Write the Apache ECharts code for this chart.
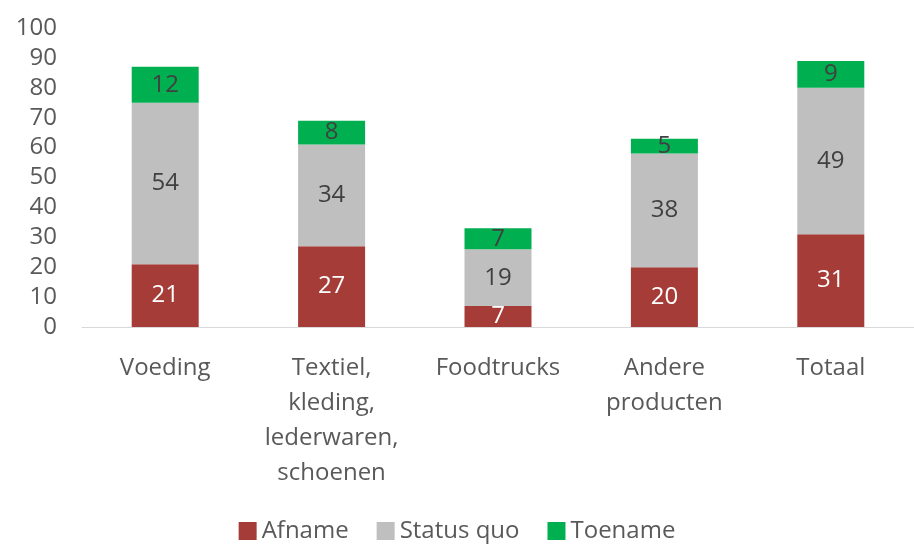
<!DOCTYPE html>
<html>
<head>
<meta charset="utf-8">
<script src="https://cdn.jsdelivr.net/npm/echarts@6/dist/echarts.min.js"></script>
<style>
  html, body { margin: 0; padding: 0; background: #fff; }
  #chart { width: 914px; height: 545px; }
</style>
</head>
<body>
<div id="chart"></div>
<script>
const categories = ['Voeding', 'Textiel,\nkleding,\nlederwaren,\nschoenen', 'Foodtrucks', 'Andere\nproducten', 'Totaal'];
const afname = [21, 27, 7, 20, 31];
const statusQuo = [54, 34, 19, 38, 49];
const toename = [12, 8, 7, 5, 9];
const yTicks = { min: 0, max: 100, interval: 10 };

const font = 'Open Sans, Lato, sans-serif';

function barSeries(name, data, color, labelColor) {
    return {
        name: name,
        type: 'bar',
        stack: 'total',
        barWidth: 67,
        data: data,
        itemStyle: { color: color },
        label: {
            show: true,
            position: 'inside',
            color: labelColor,
            fontSize: 24,
            fontFamily: font
        }
    };
}

const chart = echarts.init(document.getElementById('chart'));
chart.setOption({
    animation: false,
    textStyle: { fontFamily: font },
    grid: { left: 82, top: 28, width: 841, height: 299, containLabel: false },
    legend: {
        bottom: -3,
        left: 'center',
        itemWidth: 18,
        itemHeight: 18,
        itemGap: 28,
        icon: 'rect',
        textStyle: { fontSize: 24, color: '#595959', fontFamily: font },
        data: ['Afname', 'Status quo', 'Toename']
    },
    xAxis: {
        type: 'category',
        data: categories,
        axisLine: { lineStyle: { color: '#d9d9d9', width: 1 } },
        axisTick: { show: false },
        axisLabel: {
            interval: 0,
            hideOverlap: false,
            fontSize: 24,
            color: '#595959',
            margin: 24,
            lineHeight: 35,
            fontFamily: font
        }
    },
    yAxis: {
        type: 'value',
        min: yTicks.min,
        max: yTicks.max,
        interval: yTicks.interval,
        splitLine: { show: false },
        axisLine: { show: false },
        axisTick: { show: false },
        axisLabel: { fontSize: 24, color: '#595959', margin: 25, fontFamily: font }
    },
    series: [
        barSeries('Afname', afname, '#a53c38', '#ffffff'),
        barSeries('Status quo', statusQuo, '#bfbfbf', '#404040'),
        barSeries('Toename', toename, '#00b050', '#404040')
    ]
});
</script>
</body>
</html>
